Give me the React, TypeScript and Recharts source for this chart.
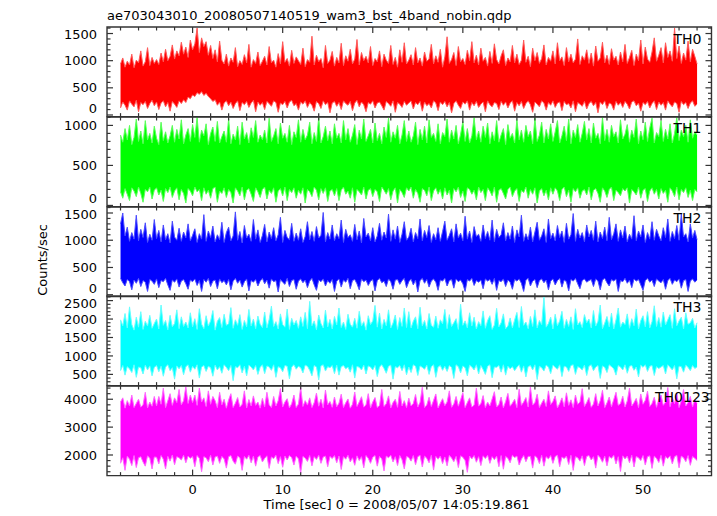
import { ComposedChart, Area, XAxis, YAxis, ReferenceArea } from 'recharts';

// bin centres [sec]
const TIME = [
  -8, -7.75, -7.5, -7.25, -7, -6.75, -6.5, -6.25, -6, -5.75, -5.5, -5.25, -5, -4.75, -4.5, -4.25,
  -4, -3.75, -3.5, -3.25, -3, -2.75, -2.5, -2.25, -2, -1.75, -1.5, -1.25, -1, -0.75, -0.5, -0.25,
  0, 0.25, 0.5, 0.75, 1, 1.25, 1.5, 1.75, 2, 2.25, 2.5, 2.75, 3, 3.25, 3.5, 3.75,
  4, 4.25, 4.5, 4.75, 5, 5.25, 5.5, 5.75, 6, 6.25, 6.5, 6.75, 7, 7.25, 7.5, 7.75,
  8, 8.25, 8.5, 8.75, 9, 9.25, 9.5, 9.75, 10, 10.25, 10.5, 10.75, 11, 11.25, 11.5, 11.75,
  12, 12.25, 12.5, 12.75, 13, 13.25, 13.5, 13.75, 14, 14.25, 14.5, 14.75, 15, 15.25, 15.5, 15.75,
  16, 16.25, 16.5, 16.75, 17, 17.25, 17.5, 17.75, 18, 18.25, 18.5, 18.75, 19, 19.25, 19.5, 19.75,
  20, 20.25, 20.5, 20.75, 21, 21.25, 21.5, 21.75, 22, 22.25, 22.5, 22.75, 23, 23.25, 23.5, 23.75,
  24, 24.25, 24.5, 24.75, 25, 25.25, 25.5, 25.75, 26, 26.25, 26.5, 26.75, 27, 27.25, 27.5, 27.75,
  28, 28.25, 28.5, 28.75, 29, 29.25, 29.5, 29.75, 30, 30.25, 30.5, 30.75, 31, 31.25, 31.5, 31.75,
  32, 32.25, 32.5, 32.75, 33, 33.25, 33.5, 33.75, 34, 34.25, 34.5, 34.75, 35, 35.25, 35.5, 35.75,
  36, 36.25, 36.5, 36.75, 37, 37.25, 37.5, 37.75, 38, 38.25, 38.5, 38.75, 39, 39.25, 39.5, 39.75,
  40, 40.25, 40.5, 40.75, 41, 41.25, 41.5, 41.75, 42, 42.25, 42.5, 42.75, 43, 43.25, 43.5, 43.75,
  44, 44.25, 44.5, 44.75, 45, 45.25, 45.5, 45.75, 46, 46.25, 46.5, 46.75, 47, 47.25, 47.5, 47.75,
  48, 48.25, 48.5, 48.75, 49, 49.25, 49.5, 49.75, 50, 50.25, 50.5, 50.75, 51, 51.25, 51.5, 51.75,
  52, 52.25, 52.5, 52.75, 53, 53.25, 53.5, 53.75, 54, 54.25, 54.5, 54.75, 55, 55.25, 55.5, 55.75,
  56,
];

// per-bin max / min counts/sec of each band
const TH0_HI = [
  940, 1050, 880, 990, 920, 1120, 870, 1010, 960, 1180, 900, 980, 1240, 910, 1060, 950,
  1020, 930, 1140, 980, 1210, 1000, 1080, 1290, 1030, 1180, 1090, 1340, 1120, 1250, 1060, 1380,
  1200, 1310, 1600, 1150, 1420, 1260, 1350, 1100, 1280, 1040, 1200, 980, 1360, 1010, 940, 1120,
  900, 1050, 970, 1240, 890, 1000, 930, 1110, 960, 1300, 880, 1020, 950, 1160, 910, 990,
  1080, 920, 1260, 960, 1010, 880, 1130, 940, 1350, 970, 1040, 900, 1190, 950, 1070, 1000,
  930, 1230, 890, 1020, 970, 1450, 920, 1100, 980, 1040, 870, 1280, 950, 1010, 1170, 900,
  1060, 960, 1320, 910, 1090, 990, 1210, 940, 1030, 1390, 920, 1150, 1000, 1080, 960, 1260,
  910, 1040, 980, 1180, 890, 1120, 1010, 950, 1280, 930, 1060, 880, 1200, 970, 1330, 940,
  1010, 1110, 920, 1240, 960, 1050, 900, 1160, 990, 1030, 1300, 940, 1090, 970, 1210, 880,
  1070, 1440, 950, 1020, 1150, 910, 1260, 980, 1040, 930, 1190, 1000, 1350, 960, 1100, 920,
  1230, 990, 1060, 900, 1170, 950, 1310, 1020, 940, 1090, 1200, 910, 1050, 980, 1280, 960,
  1120, 930, 1010, 1380, 970, 1080, 890, 1230, 1000, 1150, 950, 1040, 1290, 920, 1060, 990,
  1180, 940, 1330, 1000, 1070, 910, 1240, 980, 1120, 960, 1030, 1400, 930, 1090, 1010, 1200,
  950, 1140, 900, 1270, 990, 1050, 1340, 960, 1100, 930, 1220, 1010, 1080, 920, 1160, 980,
  1300, 950, 1060, 1190, 910, 1120, 1000, 1380, 940, 1250, 1030, 970, 1160, 1420, 990, 1100,
  1240, 960, 1330, 1060, 1180, 990, 1600, 1040, 1270, 950, 1140, 1010, 1360, 980, 1210, 1080,
  940,
];
const TH0_LO = [
  130, 240, 180, 90, 260, 200, 150, 270, 60, 230, 190, 250, 120, 210, 270, 170,
  240, 100, 220, 260, 150, 230, 70, 250, 200, 140, 260, 210, 280, 230, 330, 300,
  370, 340, 410, 380, 430, 360, 400, 340, 300, 250, 280, 180, 240, 90, 220, 260,
  170, 240, 120, 210, 260, 80, 230, 190, 250, 140, 220, 270, 60, 240, 180, 230,
  100, 250, 210, 160, 260, 230, 50, 220, 190, 250, 130, 240, 270, 170, 210, 90,
  240, 200, 260, 140, 230, 180, 70, 250, 210, 120, 260, 190, 230, 40, 220, 250,
  160, 230, 100, 260, 210, 180, 250, 80, 220, 270, 150, 240, 190, 60, 230, 200,
  260, 130, 220, 240, 170, 90, 250, 210, 160, 260, 50, 230, 200, 140, 250, 180,
  220, 260, 110, 230, 190, 250, 70, 240, 170, 210, 130, 260, 220, 80, 240, 190,
  250, 150, 230, 40, 210, 260, 180, 120, 240, 200, 260, 90, 230, 170, 250, 140,
  200, 240, 60, 260, 190, 150, 230, 210, 100, 250, 180, 240, 130, 220, 260, 70,
  230, 170, 250, 120, 210, 260, 190, 50, 240, 200, 150, 260, 220, 90, 230, 180,
  260, 140, 220, 240, 80, 250, 190, 210, 130, 260, 60, 230, 200, 160, 250, 110,
  210, 250, 170, 230, 40, 240, 190, 260, 120, 220, 200, 90, 250, 180, 230, 140,
  250, 200, 110, 240, 260, 170, 220, 70, 230, 190, 250, 130, 210, 260, 100, 240,
  180, 230, 90, 260, 200, 150, 240, 210, 50, 250, 190, 230, 120, 220, 260, 160,
  200,
];

const TH1_HI = [
  880, 790, 960, 820, 1000, 760, 850, 1080, 800, 930, 770, 1060, 820, 900, 780, 990,
  840, 760, 1040, 810, 920, 780, 870, 1000, 790, 950, 830, 1070, 770, 880, 960, 800,
  1010, 850, 1100, 790, 940, 870, 1020, 760, 900, 980, 800, 1050, 780, 860, 930, 790,
  1080, 770, 890, 820, 990, 760, 1040, 830, 910, 780, 970, 850, 1060, 790, 880, 820,
  940, 780, 1090, 800, 870, 960, 770, 1030, 840, 900, 790, 1000, 760, 920, 850, 1070,
  790, 950, 820, 880, 1040, 770, 910, 800, 1100, 780, 860, 990, 810, 930, 770, 1020,
  840, 900, 780, 1060, 820, 960, 790, 880, 1010, 760, 940, 830, 1080, 800, 870, 950,
  780, 1030, 810, 900, 770, 980, 850, 1090, 790, 920, 840, 1000, 770, 880, 1060, 800,
  930, 790, 870, 1040, 760, 950, 820, 990, 780, 1070, 850, 900, 800, 1020, 770, 910,
  860, 1080, 790, 940, 830, 1000, 770, 890, 1050, 800, 960, 780, 870, 1100, 820, 930,
  790, 990, 850, 1030, 770, 920, 810, 1060, 790, 880, 960, 760, 1010, 840, 900, 780,
  1070, 820, 940, 790, 1000, 860, 930, 770, 1090, 800, 880, 1040, 780, 950, 830, 1020,
  800, 920, 1060, 780, 870, 990, 810, 1080, 770, 940, 850, 1010, 790, 900, 1050, 820,
  960, 780, 1030, 840, 900, 770, 1100, 810, 950, 790, 1000, 860, 920, 780, 1070, 830,
  890, 1010, 790, 940, 850, 1080, 770, 930, 820, 1040, 800, 970, 1090, 780, 910, 860,
  1060, 800, 950, 830, 1020, 780, 900, 1100, 810, 940, 860, 1000, 790, 1070, 840, 920,
  880,
];
const TH1_LO = [
  170, 90, 210, 140, 60, 220, 180, 110, 230, 150, 40, 200, 170, 230, 80, 190,
  220, 130, 190, 50, 210, 160, 230, 100, 180, 220, 70, 200, 150, 30, 210, 180,
  120, 230, 170, 200, 60, 220, 140, 190, 90, 210, 230, 40, 180, 150, 220, 100,
  200, 160, 30, 220, 180, 120, 230, 70, 190, 210, 140, 50, 220, 170, 100, 200,
  230, 80, 190, 150, 220, 40, 180, 210, 120, 230, 60, 200, 160, 220, 90, 190,
  140, 220, 30, 200, 170, 110, 230, 190, 70, 210, 150, 220, 50, 180, 200, 120,
  210, 60, 190, 230, 140, 180, 90, 220, 40, 200, 170, 130, 230, 80, 190, 210,
  110, 200, 170, 50, 230, 190, 140, 210, 70, 180, 220, 30, 200, 160, 100, 220,
  180, 230, 90, 200, 150, 40, 210, 190, 120, 230, 60, 180, 220, 140, 200, 80,
  220, 130, 190, 30, 210, 170, 230, 100, 180, 50, 220, 200, 140, 190, 70, 230,
  160, 200, 60, 220, 180, 120, 230, 40, 190, 210, 150, 80, 200, 230, 110, 180,
  210, 50, 190, 160, 230, 90, 200, 140, 220, 30, 180, 210, 120, 190, 70, 220,
  140, 220, 180, 60, 200, 230, 110, 190, 40, 210, 170, 220, 90, 180, 200, 130,
  230, 70, 190, 210, 150, 40, 220, 180, 100, 200, 230, 60, 190, 160, 120, 210,
  180, 220, 30, 200, 170, 130, 230, 90, 190, 210, 50, 180, 220, 140, 200, 80,
  210, 150, 190, 40, 220, 180, 110, 230, 70, 200, 160, 220, 100, 190, 60, 200,
  170,
];

const TH2_HI = [
  1300, 1500, 1080, 1240, 980, 1140, 1020, 1460, 990, 1200, 1050, 1320, 960, 1110, 1000, 1380,
  1030, 1180, 970, 1280, 1010, 1120, 950, 1350, 1060, 1000, 1220, 980, 1150, 1040, 1300, 990,
  1090, 1210, 960, 1120, 1020, 1470, 980, 1170, 1050, 1260, 970, 1100, 1010, 1330, 960, 1140,
  1240, 990, 1080, 1520, 1000, 1160, 950, 1270, 1040, 1110, 980, 1380, 1020, 1190, 960, 1090,
  1290, 970, 1150, 1030, 1230, 990, 1100, 1420, 960, 1180, 1050, 1010, 1310, 980, 1130, 1000,
  1210, 960, 1070, 1340, 1010, 1160, 980, 1250, 1040, 1090, 1510, 970, 1140, 1020, 1280, 990,
  1120, 1030, 1370, 960, 1200, 1050, 1100, 980, 1290, 1010, 1170, 950, 1400, 1060, 1130, 990,
  1230, 970, 1080, 1310, 1000, 1150, 1040, 1480, 980, 1190, 1020, 1260, 960, 1110, 1340, 1000,
  1060, 1220, 970, 1140, 1030, 1390, 990, 1180, 1050, 1270, 960, 1120, 1010, 1230, 980, 1160,
  1350, 1000, 1090, 1210, 970, 1300, 1040, 1130, 990, 1440, 1020, 1170, 960, 1250, 1070, 1110,
  980, 1280, 1030, 1160, 1000, 1370, 970, 1200, 1050, 1100, 1320, 990, 1140, 1020, 1260, 960,
  1190, 1060, 1460, 980, 1120, 1010, 1240, 970, 1150, 1330, 1000, 1080, 1210, 960, 1390, 1030,
  1130, 990, 1270, 1050, 1170, 960, 1310, 1020, 1100, 1490, 980, 1200, 1040, 1140, 970, 1280,
  1060, 1180, 1000, 1350, 970, 1150, 1030, 1240, 990, 1420, 1010, 1120, 1300, 980, 1190, 1040,
  1260, 970, 1110, 1020, 1450, 990, 1170, 1060, 1280, 960, 1140, 1020, 1340, 1000, 1200, 1080,
  990, 1230, 1050, 1390, 980, 1160, 1030, 1270, 1000, 1480, 1060, 1120, 970, 1300, 1040, 1180,
  1010,
];
const TH2_LO = [
  300, 220, 160, 280, 240, 90, 270, 210, 300, 150, 260, 230, 60, 280, 250, 190,
  290, 130, 260, 240, 300, 180, 80, 270, 230, 290, 140, 250, 280, 200, 100, 270,
  240, 290, 170, 260, 60, 280, 230, 300, 150, 250, 270, 110, 290, 220, 260, 180,
  280, 90, 250, 300, 210, 270, 140, 240, 290, 70, 260, 230, 280, 160, 250, 300,
  200, 270, 120, 290, 240, 260, 50, 280, 230, 190, 300, 150, 260, 280, 100, 250,
  290, 220, 270, 130, 250, 300, 180, 80, 270, 240, 290, 160, 260, 210, 280, 60,
  250, 290, 140, 270, 230, 300, 110, 260, 280, 200, 90, 290, 240, 270, 170, 250,
  280, 70, 260, 300, 220, 250, 150, 290, 240, 100, 270, 280, 190, 260, 300, 130,
  240, 290, 180, 270, 50, 260, 300, 210, 280, 140, 250, 290, 230, 80, 270, 250,
  300, 160, 260, 280, 120, 290, 240, 270, 200, 60, 280, 250, 300, 170, 260, 230,
  270, 110, 290, 250, 280, 190, 300, 80, 260, 240, 290, 150, 270, 230, 100, 280,
  250, 290, 210, 60, 270, 300, 160, 250, 280, 130, 260, 290, 220, 270, 90, 250,
  290, 180, 260, 300, 140, 270, 240, 70, 280, 250, 300, 200, 110, 260, 290, 230,
  260, 280, 150, 290, 250, 90, 270, 300, 220, 160, 280, 250, 290, 60, 260, 240,
  300, 210, 270, 130, 290, 250, 280, 180, 80, 260, 300, 230, 270, 150, 290, 250,
  220, 280, 100, 260, 300, 190, 270, 240, 290, 120, 260, 280, 60, 250, 290, 230,
  270,
];

const TH3_HI = [
  1980, 1820, 2150, 1760, 2330, 1850, 1700, 2050, 1780, 2200, 1720, 1940, 1810, 2100, 1750, 1880,
  2000, 1730, 2380, 1830, 1960, 1710, 2100, 1790, 1880, 2250, 1740, 2060, 1800, 1920, 1760, 2170,
  1790, 2010, 1720, 2280, 1860, 1740, 2090, 1810, 1950, 2230, 1700, 1940, 2040, 1770, 2130, 1830,
  1870, 2310, 1750, 1980, 1830, 2120, 1720, 1960, 1790, 2260, 1810, 2000, 1740, 2080, 1860, 1770,
  2190, 1760, 1990, 2350, 1800, 1930, 1730, 2140, 1850, 1780, 2270, 1720, 2020, 1840, 1960, 1750,
  2060, 1800, 2180, 1740, 2480, 1820, 1950, 1710, 2110, 1880, 1760, 2240, 1790, 1990, 1730, 2070,
  1840, 2300, 1770, 1920, 1720, 2130, 1860, 1780, 2020, 1750, 2210, 1810, 1930, 1700, 2090, 1850,
  1950, 2370, 1780, 2160, 1730, 1990, 1820, 2250, 1760, 1890, 2110, 1720, 2040, 1800, 2300, 1770,
  2200, 1760, 1940, 2060, 1740, 2320, 1810, 1960, 1730, 2150, 1830, 1780, 2080, 1750, 1980, 1870,
  2260, 1740, 2120, 1800, 1900, 2010, 1720, 2400, 1830, 1950, 1760, 2170, 1810, 2050, 1730, 1930,
  1820, 2220, 1750, 1960, 2090, 1720, 1840, 2290, 1790, 1900, 2140, 1740, 1810, 2030, 1760, 1980,
  2180, 1770, 2340, 1830, 1920, 1740, 2070, 1800, 2250, 1760, 1960, 1850, 2600, 1780, 1880, 2050,
  1730, 2130, 1820, 1950, 2210, 1750, 1990, 1800, 2060, 1720, 2280, 1840, 1930, 1770, 2120, 1900,
  2000, 1760, 2230, 1810, 1940, 2380, 1740, 1890, 2070, 1790, 2160, 1730, 1980, 2300, 1780, 1920,
  1850, 2140, 1750, 2010, 1820, 2270, 1730, 1960, 2090, 1790, 2200, 1760, 1930, 2360, 1800, 2040,
  1780, 2190, 1840, 1980, 2120, 1750, 2280, 1820, 1950, 2050, 1730, 2170, 1860, 1900, 2020, 1760,
  1900,
];
const TH3_LO = [
  600, 740, 480, 710, 650, 550, 760, 420, 700, 680, 510, 750, 620, 730, 460, 690,
  740, 570, 720, 450, 700, 760, 600, 680, 370, 730, 650, 740, 490, 710, 760, 560,
  720, 640, 760, 400, 700, 740, 580, 720, 680, 450, 750, 620, 710, 530, 760, 690,
  600, 740, 330, 710, 680, 760, 540, 720, 460, 750, 700, 620, 740, 500, 690, 760,
  520, 730, 700, 610, 760, 420, 710, 680, 570, 740, 720, 380, 700, 760, 640, 720,
  680, 540, 750, 720, 610, 460, 740, 700, 350, 730, 760, 590, 710, 680, 740, 520,
  750, 480, 710, 740, 650, 700, 560, 760, 400, 720, 690, 620, 750, 510, 730, 700,
  620, 740, 440, 700, 760, 660, 530, 720, 750, 370, 710, 680, 740, 600, 760, 490,
  700, 550, 760, 720, 470, 730, 690, 640, 750, 500, 710, 760, 420, 700, 740, 610,
  720, 580, 740, 690, 390, 760, 710, 540, 730, 680, 460, 750, 700, 620, 760, 510,
  740, 630, 500, 720, 760, 410, 700, 690, 740, 560, 760, 480, 720, 650, 710, 600,
  690, 760, 560, 730, 430, 710, 740, 620, 760, 360, 720, 680, 590, 750, 700, 520,
  750, 690, 640, 760, 440, 720, 700, 580, 740, 760, 500, 710, 680, 620, 750, 470,
  720, 760, 600, 700, 740, 390, 730, 690, 550, 760, 710, 650, 480, 740, 700, 620,
  760, 530, 720, 740, 610, 700, 430, 750, 690, 760, 580, 720, 740, 470, 710, 660,
  700, 740, 510, 760, 690, 620, 740, 380, 720, 710, 560, 750, 690, 600, 740, 660,
  700,
];

const TH0123_HI = [
  3900, 4050, 3680, 3950, 3760, 4150, 3700, 3850, 4000, 3720, 3800, 4250, 3690, 3900, 3750, 4100,
  3760, 4100, 3820, 4400, 3700, 3950, 4200, 3780, 4050, 3880, 4350, 3800, 3950, 4450, 3850, 4150,
  3880, 4150, 3780, 4400, 3900, 4050, 3740, 4300, 3820, 4100, 3950, 3700, 4250, 3800, 4000, 3680,
  3980, 4200, 3700, 3860, 4060, 3720, 3820, 4300, 3690, 3990, 3760, 4120, 3780, 3900, 3680, 4030,
  3720, 4250, 3800, 3700, 4100, 3760, 3950, 4380, 3720, 3900, 4020, 3690, 3840, 4150, 3700, 3830,
  4420, 3740, 3950, 3790, 4050, 3700, 3880, 4220, 3750, 4000, 3690, 4330, 3800, 3920, 3710, 4080,
  3730, 3860, 4180, 3700, 3870, 4010, 3680, 3820, 4260, 3740, 3900, 4090, 3720, 3800, 4200, 3690,
  3900, 4060, 3700, 3780, 4350, 3740, 3840, 4120, 3690, 3880, 4000, 3710, 4280, 3760, 3950, 3700,
  4040, 3760, 3850, 4170, 3720, 3890, 4430, 3700, 3800, 4070, 3740, 3960, 4190, 3690, 3860, 4020,
  3770, 3900, 4300, 3710, 3830, 4100, 3750, 3980, 4240, 3700, 3880, 4050, 3720, 3790, 4400, 3760,
  3840, 4130, 3700, 3900, 3760, 4010, 4270, 3720, 3810, 4080, 3690, 3920, 4210, 3750, 3860, 4000,
  3700, 4360, 3780, 3900, 4060, 3720, 4440, 3790, 3880, 4180, 3700, 3860, 4000, 3740, 4300, 3810,
  3920, 4120, 3690, 3850, 4050, 3730, 4230, 3780, 3980, 3700, 4150, 3820, 3900, 4380, 3740, 3880,
  4060, 3710, 3830, 4200, 3760, 3950, 4320, 3700, 3870, 4080, 3730, 3990, 4250, 3780, 3850, 4110,
  3720, 3940, 4400, 3760, 3880, 4030, 3700, 4190, 3820, 3960, 4290, 3740, 3850, 4070, 3710, 4000,
  4150, 3780, 3900, 4420, 3730, 4060, 3840, 4230, 3700, 3950, 4350, 3760, 3880, 4100, 3720, 3980,
  3850,
];
const TH0123_LO = [
  1700, 1900, 1450, 1960, 1850, 1620, 1980, 1550, 1900, 1940, 1750, 1600, 1970, 1880, 1500, 1930,
  1920, 1680, 1980, 1850, 1500, 1950, 1780, 2000, 1650, 1940, 1900, 1820, 1990, 1720, 1960, 1880,
  1950, 1580, 1980, 1880, 1400, 1940, 1900, 1760, 1990, 1640, 1930, 1960, 1700, 1950, 1860, 1530,
  1940, 1980, 1780, 1670, 1960, 1900, 1450, 1950, 1850, 1990, 1720, 1960, 1600, 1930, 1980, 1750,
  1880, 1970, 1520, 1930, 1870, 1990, 1690, 1940, 1560, 1960, 1820, 1980, 1910, 1640, 1960, 1860,
  1350, 1950, 1890, 1770, 1980, 1610, 1940, 1840, 1990, 1700, 1930, 1960, 1580, 1950, 1870, 1980,
  1720, 1960, 1480, 1940, 1850, 1990, 1750, 1900, 1630, 1970, 1800, 1940, 1540, 1980, 1880, 1700,
  1920, 1980, 1600, 1950, 1860, 1430, 1960, 1900, 1990, 1750, 1940, 1620, 1980, 1830, 1500, 1950,
  1910, 1780, 1980, 1650, 1940, 1990, 1570, 1960, 1880, 1720, 1990, 1460, 1950, 1850, 1960, 1690,
  1930, 1610, 1990, 1890, 1760, 1950, 1550, 1970, 1920, 1800, 1380, 1960, 1860, 1980, 1740, 1940,
  1620, 1970, 1870, 1990, 1700, 1940, 1830, 1960, 1580, 1980, 1490, 1950, 1880, 1720, 1990, 1910,
  1960, 1640, 1850, 1980, 1760, 1950, 1950, 1530, 1970, 1900, 1690, 1990, 1600, 1940, 1860, 1980,
  1700, 1950, 1990, 1580, 1930, 1870, 1960, 1660, 1990, 1450, 1940, 1900, 1780, 1970, 1620, 1950,
  1980, 1820, 1940, 1530, 1990, 1900, 1740, 1960, 1610, 1950, 1880, 1990, 1680, 1940, 1410, 1970,
  1860, 1960, 1720, 1990, 1570, 1950, 1900, 1800, 1980, 1640, 1940, 1970, 1520, 1960, 1880, 1730,
  1990, 1600, 1950, 1870, 1970, 1680, 1940, 1990, 1540, 1960, 1900, 1760, 1980, 1630, 1950, 1880,
  1800,
];

const X_TICKS = [
  -8, -6, -4, -2, 0, 2, 4, 6, 8, 10, 12, 14, 16, 18, 20, 22, 24,
  26, 28, 30, 32, 34, 36, 38, 40, 42, 44, 46, 48, 50, 52, 54, 56,
];
const X_LABELS = [0, 10, 20, 30, 40, 50];

const TH0_TICKS = [0, 100, 200, 300, 400, 500, 600, 700, 800, 900, 1000, 1100, 1200, 1300, 1400, 1500, 1600];
const TH0_LABELS = [0, 500, 1000, 1500];
const TH1_TICKS = [0, 100, 200, 300, 400, 500, 600, 700, 800, 900, 1000, 1100];
const TH1_LABELS = [0, 500, 1000];
const TH2_TICKS = [0, 100, 200, 300, 400, 500, 600, 700, 800, 900, 1000, 1100, 1200, 1300, 1400, 1500, 1600];
const TH2_LABELS = [0, 500, 1000, 1500];
const TH3_TICKS = [
  200, 300, 400, 500, 600, 700, 800, 900, 1000, 1100, 1200, 1300, 1400,
  1500, 1600, 1700, 1800, 1900, 2000, 2100, 2200, 2300, 2400, 2500, 2600,
];
const TH3_LABELS = [500, 1000, 1500, 2000, 2500];
const TH0123_TICKS = [1400, 1600, 1800, 2000, 2200, 2400, 2600, 2800, 3000, 3200, 3400, 3600, 3800, 4000, 4200, 4400];
const TH0123_LABELS = [2000, 3000, 4000];

const X_DOMAIN: [number, number] = [-9.5, 57.6];

const W = 717;
const H = 516;
const LEFT = 107;
const RIGHT = 711.5;
const TOP = 27.3;
const PH = 89.63;
const PAD = 12;
const FRAME = '#333';
const FONT = '"DejaVu Sans", Verdana, sans-serif';

interface PanelProps {
  index: number;
  lo: number[];
  hi: number[];
  color: string;
  edge: string;
  domain: [number, number];
  ticks: number[];
  labels: number[];
  last?: boolean;
}

function Panel({ index, lo, hi, color, edge, domain, ticks, labels, last }: PanelProps) {
  const rows = TIME.map((t, i) => ({ t, band: hi[i] == null ? null : [lo[i], hi[i]] }));
  const extra = last ? 34 : 0;
  const plotW = RIGHT - LEFT;

  const xTick = (p: any) => {
    const v = p.payload.value;
    const major = v % 10 === 0;
    const len = major ? 6 : 3.5;
    return (
      <g>
        <line x1={p.x} x2={p.x} y1={p.y} y2={p.y - len} stroke={FRAME} strokeWidth={1.2} />
        <line x1={p.x} x2={p.x} y1={p.y - PH} y2={p.y - PH + len} stroke={FRAME} strokeWidth={1.2} />
        {last && X_LABELS.includes(v) && (
          <text x={p.x} y={p.y + 18} textAnchor="middle" fontFamily={FONT} fontSize={13} fill="#000">
            {v}
          </text>
        )}
      </g>
    );
  };

  const yTick = (p: any) => {
    const v = p.payload.value;
    const major = labels.includes(v);
    const len = major ? 6 : 3.5;
    // labels next to a panel edge stay inside that panel so neighbours do not collide
    const base = Math.max(PAD + 12.2, Math.min(p.y + 4.6, PAD + PH - 3.3));
    return (
      <g>
        <line x1={p.x} x2={p.x + len} y1={p.y} y2={p.y} stroke={FRAME} strokeWidth={1.2} />
        <line x1={p.x + plotW} x2={p.x + plotW - len} y1={p.y} y2={p.y} stroke={FRAME} strokeWidth={1.2} />
        {major && (
          <text x={p.x - 10} y={base} textAnchor="end" fontFamily={FONT} fontSize={13} fill="#000">
            {v}
          </text>
        )}
      </g>
    );
  };

  return (
    <div style={{ position: 'absolute', left: 0, top: TOP + index * PH - PAD }}>
      <ComposedChart
        width={W}
        height={PH + 2 * PAD + extra}
        data={rows}
        margin={{ top: PAD, bottom: PAD + extra - 1, left: LEFT - 1, right: W - RIGHT }}
      >
        <XAxis
          dataKey="t"
          type="number"
          domain={X_DOMAIN}
          ticks={X_TICKS}
          interval={0}
          allowDataOverflow
          height={1}
          tickSize={0}
          tickMargin={0}
          axisLine={false}
          tickLine={false}
          tick={xTick}
        />
        <YAxis
          type="number"
          domain={domain}
          ticks={ticks}
          interval={0}
          allowDataOverflow
          width={1}
          tickSize={0}
          tickMargin={0}
          axisLine={false}
          tickLine={false}
          tick={yTick}
        />
        <Area
          dataKey="band"
          type="linear"
          fill={color}
          fillOpacity={1}
          stroke={edge}
          strokeWidth={1}
          dot={false}
          activeDot={false}
          isAnimationActive={false}
        />
        <ReferenceArea
          x1={X_DOMAIN[0]}
          x2={X_DOMAIN[1]}
          y1={domain[0]}
          y2={domain[1]}
          fill="none"
          stroke={FRAME}
          strokeWidth={1.4}
          ifOverflow="visible"
        />
      </ComposedChart>
    </div>
  );
}

const BANDS = ['TH0', 'TH1', 'TH2', 'TH3', 'TH0123'];

export default function App() {
  return (
    <div style={{ position: 'absolute', left: 0, top: 0, width: W, height: H, background: '#fff', overflow: 'hidden' }}>
      <Panel index={0} lo={TH0_LO} hi={TH0_HI} color="#ff0000" edge="#ff5a5a" domain={[-30, 1620]} ticks={TH0_TICKS} labels={TH0_LABELS} />
      <Panel index={1} lo={TH1_LO} hi={TH1_HI} color="#00ff00" edge="#5aff5a" domain={[-15, 1105]} ticks={TH1_TICKS} labels={TH1_LABELS} />
      <Panel index={2} lo={TH2_LO} hi={TH2_HI} color="#0000ff" edge="#4a4aff" domain={[-35, 1610]} ticks={TH2_TICKS} labels={TH2_LABELS} />
      <Panel index={3} lo={TH3_LO} hi={TH3_HI} color="#00ffff" edge="#66ffff" domain={[195, 2625]} ticks={TH3_TICKS} labels={TH3_LABELS} />
      <Panel index={4} lo={TH0123_LO} hi={TH0123_HI} color="#ff00ff" edge="#ff66ff" domain={[1260, 4475]} ticks={TH0123_TICKS} labels={TH0123_LABELS} last />
      <svg width={W} height={H} style={{ position: 'absolute', left: 0, top: 0, pointerEvents: 'none' }}>
        <text x={107} y={20} fontFamily={FONT} fontSize={13} fill="#000">
          ae703043010_20080507140519_wam3_bst_4band_nobin.qdp
        </text>
        <text transform="translate(46.5,260) rotate(-90)" textAnchor="middle" fontFamily={FONT} fontSize={13} fill="#000">
          Counts/sec
        </text>
        <text x={396.5} y={509} textAnchor="middle" fontFamily={FONT} fontSize={13} fill="#000">
          Time [sec] 0 = 2008/05/07 14:05:19.861
        </text>
        {BANDS.map((b, i) => (
          <text key={b} x={i === 4 ? 655 : 673.5} y={TOP + i * PH + 16.3} fontFamily={FONT} fontSize={14} fill="#000">
            {b}
          </text>
        ))}
      </svg>
    </div>
  );
}
